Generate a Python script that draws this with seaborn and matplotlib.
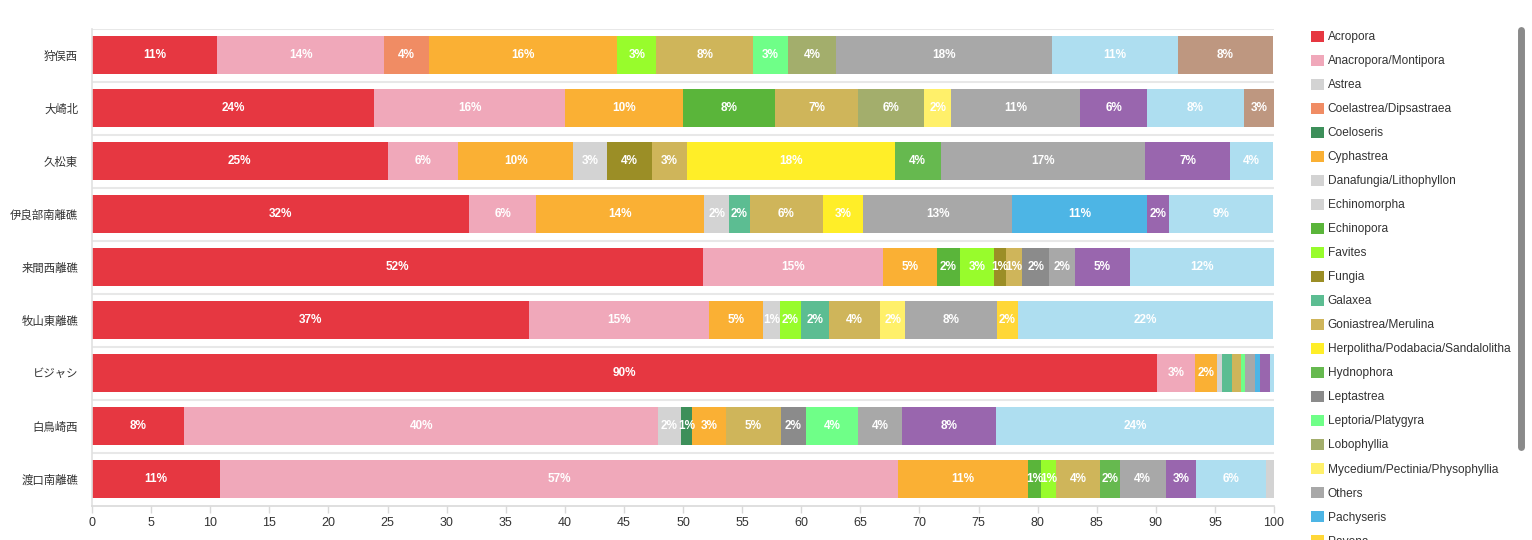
import numpy as np
import pandas as pd
import matplotlib
matplotlib.use("Agg")
import matplotlib.pyplot as plt
from matplotlib.patches import Patch
from matplotlib.lines import Line2D
import seaborn as sns

# ---------------- data ----------------
sites = ["狩俣西", "大崎北", "久松東", "伊良部南離礁", "来間西離礁",
         "牧山東離礁", "ビジャシ", "白鳥崎西", "渡口南離礁"]

genera = ["Acropora", "Anacropora/Montipora", "Astrea", "Coelastrea/Dipsastraea",
          "Coeloseris", "Cyphastrea", "Danafungia/Lithophyllon", "Echinomorpha",
          "Echinopora", "Favites", "Fungia", "Galaxea", "Goniastrea/Merulina",
          "Herpolitha/Podabacia/Sandalolitha", "Hydnophora", "Leptastrea",
          "Leptoria/Platygyra", "Lobophyllia", "Mycedium/Pectinia/Physophyllia",
          "Others", "Pachyseris", "Pavona", "Pocillopora", "Porites",
          "Psammocora", "Turbinaria"]

acropora     = [10.6, 23.9, 25.0, 31.9, 51.7, 37.0, 90.1, 7.8, 10.8]
anacropora   = [14.1, 16.1, 6.0, 5.7, 15.2, 15.2, 3.2, 40.1, 57.4]
astrea       = [0, 0, 0, 0, 0, 0, 0, 1.9, 0]
coelastrea   = [3.85, 0, 0, 0, 0, 0, 0, 0, 0]
coeloseris   = [0, 0, 0, 0, 0, 0, 0, 1.0, 0]
cyphastrea   = [15.9, 10.0, 9.7, 14.2, 4.6, 4.6, 1.9, 2.85, 11.0]
danafungia   = [0, 0, 2.9, 2.1, 0, 1.4, 0.43, 0, 0]
echinomorpha = [0, 0, 0, 0, 0, 0, 0, 0, 0]
echinopora   = [0, 7.8, 0, 0, 1.9, 0, 0, 0, 1.1]
favites      = [3.3, 0, 0, 0, 2.9, 1.75, 0, 0, 1.27]
fungia       = [0, 0, 3.8, 0, 1.0, 0, 0, 0, 0]
galaxea      = [0, 0, 0, 1.75, 0, 2.4, 0.84, 0, 0]
goniastrea   = [8.2, 7.0, 2.9, 6.2, 1.4, 4.35, 0.77, 4.6, 3.7]
herpolitha   = [0, 0, 17.6, 3.4, 0, 0, 0, 0, 0]
hydnophora   = [0, 0, 3.9, 0, 0, 0, 0, 0, 1.67]
leptastrea   = [0, 0, 0, 0, 2.3, 0, 0, 2.16, 0]
leptoria     = [2.9, 0, 0, 0, 0, 0, 0.3, 4.4, 0]
lobophyllia  = [4.1, 5.6, 0, 0, 0, 0, 0, 0, 0]
mycedium     = [0, 2.3, 0, 0, 0, 2.1, 0, 0, 0]
others       = [18.3, 10.9, 17.3, 12.6, 2.2, 7.8, 0.84, 3.7, 3.9]
pachyseris   = [0, 0, 0, 11.4, 0, 0, 0.43, 0, 0]
pavona       = [0, 0, 0, 0, 0, 1.7, 0, 0, 0]
pocillopora  = [0, 5.65, 7.2, 1.9, 4.6, 0, 0.81, 8.0, 2.6]
porites      = [10.6, 8.2, 3.6, 8.8, 12.2, 21.6, 0.42, 23.5, 5.85]
psammocora   = [0, 0, 0, 0, 0, 0, 0, 0, 0.76]
turbinaria   = [8.1, 2.6, 0, 0, 0, 0, 0, 0, 0]

values = [acropora, anacropora, astrea, coelastrea, coeloseris, cyphastrea,
          danafungia, echinomorpha, echinopora, favites, fungia, galaxea,
          goniastrea, herpolitha, hydnophora, leptastrea, leptoria, lobophyllia,
          mycedium, others, pachyseris, pavona, pocillopora, porites,
          psammocora, turbinaria]

colors = ["#e63741", "#f0a8ba", "#d3d3d3", "#f08c64", "#3d8f5a", "#fab034",
          "#d3d3d3", "#d3d3d3", "#5ab53a", "#98fc2c", "#9b8e26", "#5cbd92",
          "#cfb55a", "#ffee28", "#66b94f", "#8b8b8b", "#6fff88", "#a3ae6c",
          "#fff06a", "#a8a8a8", "#4db5e5", "#ffd737", "#9966ae", "#aedef0",
          "#d3d3d3", "#be9780"]

xticks = list(range(0, 101, 5))

# ---------------- plot ----------------
sns.set_theme(style="white")
plt.rcParams["font.family"] = ["Liberation Sans", "Noto Sans CJK JP", "DejaVu Sans"]

W, H = 1532, 540
fig = plt.figure(figsize=(W / 100, H / 100), dpi=100)
ax = fig.add_axes([92 / W, 34.5 / H, 1182 / W, 477 / H])

vals = np.array(values, dtype=float)
cum = np.cumsum(vals, axis=0)

for i in reversed(range(len(genera))):
    df = pd.DataFrame({"site": sites, "value": cum[i]})
    sns.barplot(data=df, x="value", y="site", orient="h", order=sites,
                color=colors[i], saturation=1, width=0.7, linewidth=0,
                errorbar=None, ax=ax, zorder=2)

for i in range(len(genera)):
    for j in range(len(sites)):
        v = vals[i, j]
        if v >= 1:
            ax.text(cum[i, j] - v / 2, j, f"{round(v)}%", ha="center", va="center",
                    color="white", fontsize=8.5, fontweight="bold", zorder=5)

ax.hlines(np.arange(len(sites)) - 0.5, 0, 100, color="#e8e8e8", lw=1.5, zorder=0)

ax.set_xlim(0, 100)
ax.set_ylim(len(sites) - 0.5, -0.5)
ax.set_xticks(xticks)
ax.set_xlabel("")
ax.set_ylabel("")
for s in ["top", "right"]:
    ax.spines[s].set_visible(False)
ax.spines["left"].set_color("#e0e0e0")
ax.spines["bottom"].set_color("#d9d9d9")
ax.spines["left"].set_linewidth(1.2)
ax.spines["bottom"].set_linewidth(1.2)
ax.tick_params(axis="x", bottom=True, length=5, width=1, color="#d9d9d9",
               labelsize=9, labelcolor="#333333", pad=3)
ax.tick_params(axis="y", left=False, length=0, labelsize=8.2,
               labelcolor="#333333", pad=10)

handles = [Patch(facecolor=c, edgecolor="none") for c in colors]
fig.legend(handles, genera, loc="upper left", bbox_to_anchor=(1311 / W, 1 - 30.5 / H),
           frameon=False, fontsize=8.6, handlelength=1.05, handleheight=1.05,
           handletextpad=0.35, labelspacing=0.955, borderaxespad=0, borderpad=0,
           labelcolor="#333333")

fig.add_artist(Line2D([1520.5 / W, 1520.5 / W], [1 - 30 / H, 1 - 447 / H],
                      transform=fig.transFigure, color="#8a8a8a", lw=5,
                      solid_capstyle="round"))

fig.savefig("out.png", dpi=100)
